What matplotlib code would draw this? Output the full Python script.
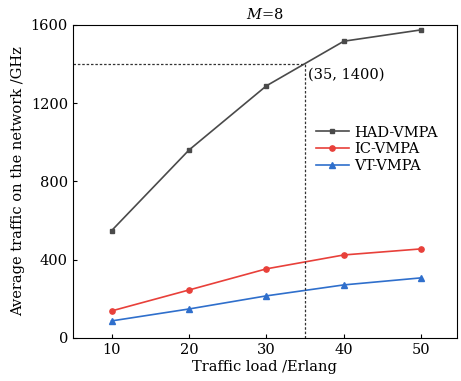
import matplotlib
matplotlib.use("Agg")
import matplotlib.pyplot as plt

load = [10, 20, 30, 40, 50]
had_vmpa = [548, 960, 1288, 1516, 1574]
ic_vmpa = [138, 245, 353, 424, 455]
vt_vmpa = [87, 148, 215, 271, 307]

plt.rcParams['font.family'] = 'DejaVu Serif'
plt.rcParams['mathtext.fontset'] = 'dejavuserif'
plt.rcParams['font.size'] = 10.5

fig = plt.figure(figsize=(4.61, 3.81), dpi=100)
ax = fig.add_axes([0.158, 0.113, 0.833, 0.822])

ax.plot(load, had_vmpa, color='#4a4a4a', marker='s', ms=3.5, lw=1.2, label='HAD-VMPA')
ax.plot(load, ic_vmpa, color='#e8403a', marker='o', ms=3.8, lw=1.2, label='IC-VMPA')
ax.plot(load, vt_vmpa, color='#2f6fcc', marker='^', ms=4.2, lw=1.2, label='VT-VMPA')

# reference point
ax.plot([5, 35], [1400, 1400], color='#333333', ls=(0, (2, 1.5)), lw=0.9)
ax.plot([35, 35], [0, 1400], color='#333333', ls=(0, (2, 1.5)), lw=0.9)
ax.text(35.4, 1345, '(35, 1400)', fontsize=10.5, va='center')

ax.set_xlim(5, 54.6)
ax.set_ylim(0, 1600)
ax.set_xticks(load)
ax.set_yticks([0, 400, 800, 1200, 1600])
ax.tick_params(direction='in', length=3)
ax.set_xlabel('Traffic load /Erlang', labelpad=2)
ax.set_ylabel('Average traffic on the network /GHz', labelpad=4)
ax.set_title('$M$=8', fontsize=10.5, pad=4)
ax.legend(loc='upper right', bbox_to_anchor=(0.985, 0.72), frameon=False,
          handlelength=2.2, handletextpad=0.4, labelspacing=0.2, fontsize=10.5)

fig.savefig('out.png', dpi=100)
